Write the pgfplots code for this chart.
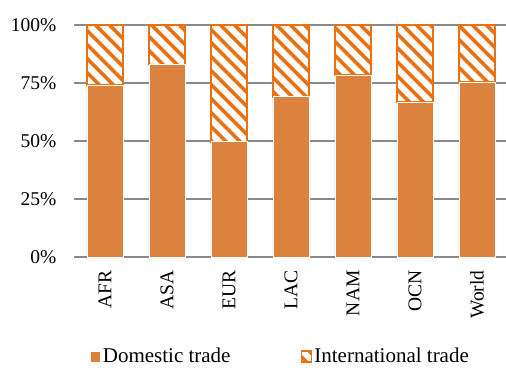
\documentclass[border=0pt]{standalone}
\usepackage{pgfplots}
\pgfplotsset{compat=1.18}
\usetikzlibrary{patterns.meta}
\usepackage{fontspec}
\setmainfont{Liberation Serif}

\definecolor{domestic}{RGB}{219,131,62}
\definecolor{hatch}{RGB}{233,113,18}
\definecolor{gridgray}{RGB}{138,138,138}

\begin{document}
\fontsize{19}{22}\selectfont
\begin{tikzpicture}
% page frame, measured from the lower left corner of the plot area
\useasboundingbox (-74pt,-110pt) rectangle (432pt,257pt);
\begin{axis}[
  at={(0pt,0pt)}, anchor=south west,
  scale only axis, width=434pt, height=232pt,
  ybar stacked, bar width=36pt,
  xmin=-0.5, xmax=6.5, ymin=0, ymax=100,
  xtick={0,...,6},
  xticklabels={AFR,ASA,EUR,LAC,NAM,OCN,World},
  xticklabel style={rotate=90, anchor=east, font=\fontsize{19.5}{22}\selectfont},
  ytick={0,25,50,75,100},
  yticklabels={0\%,25\%,50\%,75\%,100\%},
  yticklabel style={font=\fontsize{19.5}{22}\selectfont},
  /pgf/number format/assume math mode=true,
  ymajorgrids, grid style={gridgray, line width=1.6pt},
  axis line style={draw=none},
  major tick length=0pt,
  xtick pos=bottom,
  xticklabel shift=7pt, yticklabel shift=11pt,
  legend columns=2,
  legend style={draw=none, fill=none, at={(0.037,-0.431)}, anchor=west,
    font=\fontsize{21}{24}\selectfont,
    /tikz/every even column/.style={column sep=68pt},
    inner sep=0pt},
  legend cell align=left,
  legend image code/.code={\draw[#1] (0pt,-5pt) rectangle (10pt,6pt);},
]
\addplot[fill=domestic, draw=white, line width=0.6pt]
  coordinates {(0,74.1) (1,83.0) (2,49.7) (3,69.1) (4,78.4) (5,66.7) (6,75.4)};
\addlegendentry{Domestic trade}
\addplot[draw=hatch, line width=1.8pt, fill=white,
  postaction={pattern={Lines[angle=-45, distance=10.5pt, line width=4pt]}, pattern color=hatch}]
  coordinates {(0,25.9) (1,17.0) (2,50.3) (3,30.9) (4,21.6) (5,33.3) (6,24.6)};
\addlegendentry{International trade}
\end{axis}
\end{tikzpicture}
\end{document}
